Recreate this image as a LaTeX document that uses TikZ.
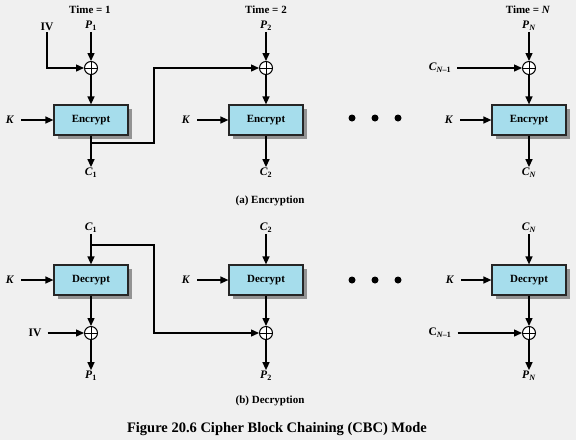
\documentclass[tikz,border=0pt]{standalone}
\usepackage{fontspec}
\setmainfont{Liberation Serif}
\usetikzlibrary{arrows.meta, shadows}

\definecolor{bgcol}{HTML}{F0F0F0}
\definecolor{boxcol}{HTML}{A6DDEC}

\tikzset{
  arr/.style={line width=1.4pt, -{Triangle[length=8pt,width=7pt]}},
  lbl/.style={font=\bfseries\fontsize{11.5}{13}\selectfont, inner sep=1pt},
  blk/.style={draw=black!85, line width=1.2pt, fill=boxcol, minimum width=74pt,
    minimum height=30pt, font=\bfseries\fontsize{11}{13}\selectfont,
    drop shadow={shadow xshift=4pt, shadow yshift=-4pt, fill=gray!85, opacity=1}},
  xor/.style={circle, draw, line width=1pt, fill=white, inner sep=0pt, minimum size=13pt,
    path picture={\draw[line width=0.9pt] (path picture bounding box.west) -- (path picture bounding box.east)
      (path picture bounding box.north) -- (path picture bounding box.south);}},
  captxt/.style={font=\bfseries\fontsize{11}{13}\selectfont}
}

\begin{document}
\begin{tikzpicture}[x=1pt, y=-1pt]
\fill[bgcol] (0,0) rectangle (576,440);
\useasboundingbox (0,0) rectangle (576,440);

%Cifrado, tiempo 1
\node[captxt] (t1) at (90,10) {Time = 1};
\node[lbl] (pe1) at (91,26) {\textit{P}\textsubscript{1}};
\node[lbl] (iv) at (47,27) {IV};
\node[xor] (xe1) at (91,68) {};
\node[blk] (enc1) at (91,120) {Encrypt};
\node[lbl] (ke1) at (10,120) {\textit{K}};
\node[lbl] (ce1) at (91,173) {\textit{C}\textsubscript{1}};
\draw[arr] (pe1) -- (xe1);
\draw[arr] (iv) |- (xe1);
\draw[arr] (xe1) -- (enc1);
\draw[arr, shorten <=6pt] (ke1) -- (enc1);
\draw[arr] (enc1) -- (ce1);

%Cifrado, tiempo 2
\node[captxt] (t2) at (266,10) {Time = 2};
\node[lbl] (pe2) at (266,26) {\textit{P}\textsubscript{2}};
\node[xor] (xe2) at (266,68) {};
\node[blk] (enc2) at (266,120) {Encrypt};
\node[lbl] (ke2) at (186,120) {\textit{K}};
\node[lbl] (ce2) at (266,173) {\textit{C}\textsubscript{2}};
\draw[arr] (pe2) -- (xe2);
\draw[arr] (xe2) -- (enc2);
\draw[arr, shorten <=6pt] (ke2) -- (enc2);
\draw[arr] (enc2) -- (ce2);

%Encadenamiento
\coordinate (fe1) at (91,143);
\coordinate (fe2) at (154,143);
\draw[arr] (fe1) -- (fe2) |- (xe2);

%Puntos
\fill (352,118) circle (3.5pt);
\fill (375,118) circle (3.5pt);
\fill (398,118) circle (3.5pt);

%Cifrado, tiempo N
\node[captxt] (tN) at (528,10) {Time = \textit{N}};
\node[lbl] (peN) at (529,26) {\textit{P}\textsubscript{\textit{N}}};
\node[lbl] (cprev) at (440,68) {\textit{C}\textsubscript{\textit{N}–1}};
\node[xor] (xeN) at (529,68) {};
\node[blk] (encN) at (529,120) {Encrypt};
\node[lbl] (keN) at (449,120) {\textit{K}};
\node[lbl] (ceN) at (529,173) {\textit{C}\textsubscript{\textit{N}}};
\draw[arr] (peN) -- (xeN);
\draw[arr, shorten <=5pt] (cprev.east |- xeN) -- (xeN);
\draw[arr] (xeN) -- (encN);
\draw[arr, shorten <=6pt] (keN) -- (encN);
\draw[arr] (encN) -- (ceN);

\node[captxt] (capa) at (270,201) {(a) Encryption};

%Descifrado, tiempo 1
\node[lbl] (cd1) at (91,228) {\textit{C}\textsubscript{1}};
\node[blk] (dec1) at (91,280) {Decrypt};
\node[lbl] (kd1) at (10,280) {\textit{K}};
\node[xor] (xd1) at (91,333) {};
\node[lbl] (ivd) at (35,333) {IV};
\node[lbl] (pd1) at (91,376) {\textit{P}\textsubscript{1}};
\draw[arr] (cd1) -- (dec1);
\draw[arr, shorten <=6pt] (kd1) -- (dec1);
\draw[arr] (dec1) -- (xd1);
\draw[arr, shorten <=5pt] (ivd) -- (xd1);
\draw[arr] (xd1) -- (pd1);

%Descifrado, tiempo 2
\node[lbl] (cd2) at (266,228) {\textit{C}\textsubscript{2}};
\node[blk] (dec2) at (266,280) {Decrypt};
\node[lbl] (kd2) at (186,280) {\textit{K}};
\node[xor] (xd2) at (266,333) {};
\node[lbl] (pd2) at (266,376) {\textit{P}\textsubscript{2}};
\draw[arr] (cd2) -- (dec2);
\draw[arr, shorten <=6pt] (kd2) -- (dec2);
\draw[arr] (dec2) -- (xd2);
\draw[arr] (xd2) -- (pd2);

%Encadenamiento
\coordinate (fd1) at (91,245);
\coordinate (fd2) at (154,245);
\draw[arr] (fd1) -- (fd2) |- (xd2);

%Puntos
\fill (352,280) circle (3.5pt);
\fill (375,280) circle (3.5pt);
\fill (398,280) circle (3.5pt);

%Descifrado, tiempo N
\node[lbl] (cdN) at (529,228) {\textit{C}\textsubscript{\textit{N}}};
\node[blk] (decN) at (529,280) {Decrypt};
\node[lbl] (kdN) at (450,280) {\textit{K}};
\node[xor] (xdN) at (529,333) {};
\node[lbl] (cprevd) at (440,333) {C\textsubscript{\textit{N}–1}};
\node[lbl] (pdN) at (529,376) {\textit{P}\textsubscript{\textit{N}}};
\draw[arr] (cdN) -- (decN);
\draw[arr, shorten <=6pt] (kdN) -- (decN);
\draw[arr] (decN) -- (xdN);
\draw[arr, shorten <=5pt] (cprevd.east |- xdN) -- (xdN);
\draw[arr] (xdN) -- (pdN);

\node[captxt] (capb) at (270,401) {(b) Decryption};

\node[font=\bfseries\fontsize{14.5}{16}\selectfont] (fig) at (277,429) {Figure 20.6 Cipher Block Chaining (CBC) Mode};
\end{tikzpicture}
\end{document}
